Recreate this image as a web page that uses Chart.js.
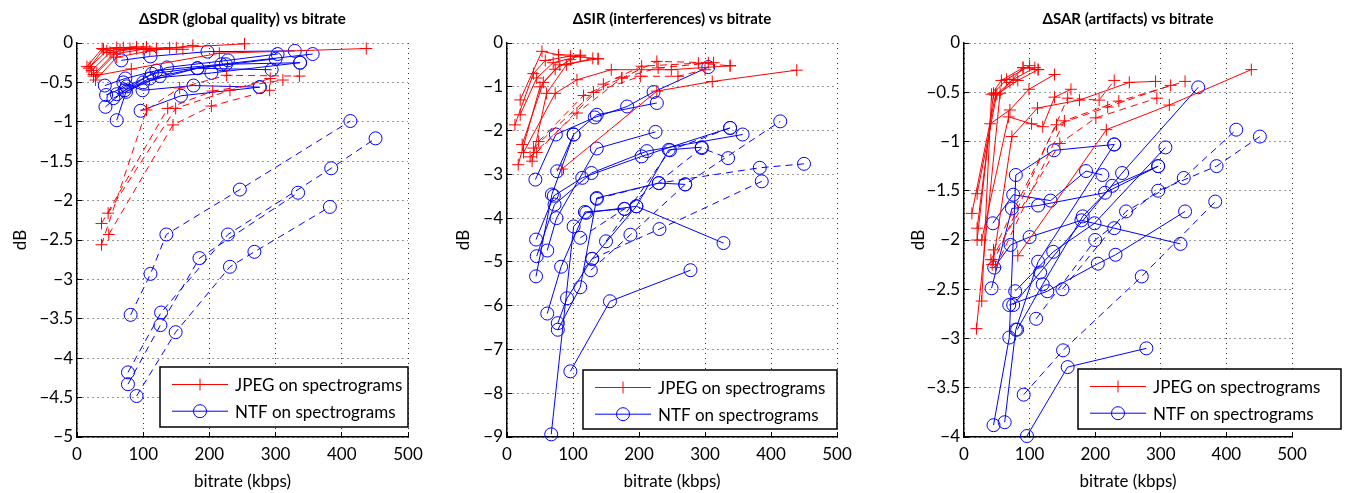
<!DOCTYPE html>
<html><head><meta charset="utf-8">
<script src="https://cdn.jsdelivr.net/npm/chart.js@4.4.0/dist/chart.umd.min.js"></script>
<style>
html,body{margin:0;padding:0;background:#fff;}
body{width:1349px;height:493px;position:relative;overflow:hidden;}
canvas{position:absolute;top:0;}
</style></head><body>
<canvas id="c1" width="440" height="493" style="left:0px"></canvas>
<canvas id="c2" width="430" height="493" style="left:443px"></canvas>
<canvas id="c3" width="451" height="493" style="left:898px"></canvas>
<script>
// ---------- tick labels / text ----------
const X_TICKS = [0, 100, 200, 300, 400, 500];
const SDR_Y_TICKS = [0, -0.5, -1, -1.5, -2, -2.5, -3, -3.5, -4, -4.5, -5];
const SIR_Y_TICKS = [0, -1, -2, -3, -4, -5, -6, -7, -8, -9];
const SAR_Y_TICKS = [0, -0.5, -1, -1.5, -2, -2.5, -3, -3.5, -4];
const TITLES = ['\u0394SDR (global quality) vs bitrate', '\u0394SIR (interferences) vs bitrate', '\u0394SAR (artifacts) vs bitrate'];
const X_LABEL = 'bitrate (kbps)';
const Y_LABEL = 'dB';
const LEGEND_LABELS = ['JPEG on spectrograms', 'NTF on spectrograms'];

// ---------- data: each series = list of [bitrate kbps, dB] ----------
// SDR panel
const sdrJpegSolid = [
  [[20,-0.3],[45,-0.1],[80,-0.07],[120,-0.07]],
  [[22,-0.35],[50,-0.12],[90,-0.07],[140,-0.06]],
  [[25,-0.4],[55,-0.14],[100,-0.08],[160,-0.08]],
  [[28,-0.47],[60,-0.18],[110,-0.1],[175,-0.03]],
  [[18,-0.32],[40,-0.08],[70,-0.06],[105,-0.05]],
  [[25,-0.42],[82,-0.33],[215,-0.13],[437,-0.07]],
  [[30,-0.38],[65,-0.08],[150,-0.06],[253,-0.01]],
  [[15,-0.3],[38,-0.07],[60,-0.06],[90,-0.05]]
];
const sdrJpegDashed = [
  [[37,-2.56],[105,-0.85],[155,-0.57],[226,-0.41],[336,-0.42]],
  [[37,-2.29],[137,-0.83],[205,-0.61],[311,-0.47]],
  [[47,-2.16],[149,-0.83],[231,-0.6],[292,-0.45]],
  [[48,-2.43],[145,-1.04],[203,-0.8],[291,-0.6]]
];
const sdrNtfSolid = [
  [[67,-0.22],[111,-0.17],[197,-0.11],[329,-0.1]],
  [[42,-0.54],[73,-0.45],[120,-0.35],[218,-0.27],[356,-0.14]],
  [[44,-0.66],[75,-0.55],[136,-0.31],[228,-0.22],[303,-0.14]],
  [[43,-0.81],[72,-0.6],[113,-0.39],[225,-0.27],[337,-0.25]],
  [[60,-0.98],[74,-0.62],[125,-0.42],[182,-0.32],[294,-0.34]],
  [[96,-0.86],[157,-0.67],[276,-0.56]],
  [[70,-0.5],[99,-0.6],[176,-0.54],[276,-0.56]],
  [[60,-0.65],[110,-0.45],[203,-0.38],[337,-0.25]],
  [[55,-0.7],[100,-0.5],[182,-0.32],[300,-0.2]]
];
const sdrNtfDashed = [
  [[81,-3.45],[111,-2.93],[135,-2.43],[246,-1.86],[413,-0.99]],
  [[77,-4.18],[127,-3.42],[228,-2.43],[384,-1.59],[451,-1.21]],
  [[77,-4.33],[126,-3.58],[185,-2.73],[334,-1.9]],
  [[90,-4.48],[149,-3.67],[231,-2.84],[268,-2.65],[382,-2.08]]
];
// SIR panel
const sirJpegSolid = [
  [[20,-1.3],[53,-0.19],[78,-0.27],[111,-0.28]],
  [[12,-1.87],[40,-0.7],[58,-0.4],[96,-0.3],[138,-0.36]],
  [[20,-1.64],[45,-0.8],[70,-0.45],[111,-0.3]],
  [[23,-2.32],[55,-0.9],[80,-0.5],[138,-0.36]],
  [[17,-2.78],[50,-1.0],[73,-0.6],[96,-0.38]],
  [[38,-2.7],[60,-1.15],[90,-0.5],[130,-0.35]],
  [[83,-2.88],[227,-1.1],[311,-0.88],[439,-0.62]],
  [[25,-2.5],[73,-1.15],[106,-0.84],[158,-0.61],[249,-0.61],[338,-0.52]]
];
const sirJpegDashed = [
  [[48,-2.25],[116,-1.2],[174,-0.8],[229,-0.57],[313,-0.45]],
  [[40,-2.4],[131,-1.13],[202,-0.76],[259,-0.76],[300,-0.61]],
  [[45,-2.5],[146,-0.94],[204,-0.53],[290,-0.46],[338,-0.52]],
  [[35,-2.6],[106,-1.6],[174,-0.8],[227,-0.42],[305,-0.45]]
];
const sirNtfSolid = [
  [[43,-3.12],[74,-2.09],[133,-1.7],[182,-1.45],[222,-1.12],[305,-0.55]],
  [[76,-2.93],[101,-2.09],[136,-1.64],[227,-1.37]],
  [[44,-4.49],[71,-3.49],[114,-3.08],[204,-2.59],[338,-1.94]],
  [[45,-4.87],[72,-3.69],[128,-2.97],[212,-2.47],[357,-2.09]],
  [[61,-4.74],[75,-4.0],[136,-2.41],[225,-2.03]],
  [[44,-5.33],[68,-3.46],[101,-2.09]],
  [[61,-6.18],[82,-5.11],[118,-3.86],[178,-3.79]],
  [[77,-6.4],[91,-5.83],[129,-4.93],[196,-3.73],[245,-2.44],[295,-2.38]],
  [[77,-6.55],[111,-5.58],[136,-3.54],[230,-3.2],[270,-3.23]],
  [[67,-8.94],[101,-4.19],[120,-3.88],[196,-3.73],[328,-4.57]],
  [[96,-7.5],[156,-5.9],[278,-5.19]]
];
const sirNtfDashed = [
  [[127,-5.19],[187,-4.38],[270,-3.23],[414,-1.79]],
  [[129,-4.93],[231,-4.25],[386,-3.16]],
  [[136,-3.56],[230,-3.2],[383,-2.85],[450,-2.76]],
  [[111,-4.45],[178,-3.79],[295,-2.4],[335,-2.63]],
  [[150,-4.53],[247,-2.45],[338,-1.94]]
];
// SAR panel
const sarJpegSolid = [
  [[27,-2.62],[42,-0.52],[57,-0.38],[90,-0.25],[113,-0.27]],
  [[20,-2.0],[45,-0.51],[65,-0.37],[100,-0.23]],
  [[12,-1.73],[48,-0.53],[75,-0.37],[108,-0.25]],
  [[20,-1.53],[50,-0.52],[82,-0.38],[113,-0.27]],
  [[19,-2.9],[55,-0.51],[70,-0.4],[90,-0.25]],
  [[20,-1.88],[40,-0.82],[70,-0.68],[99,-0.47],[138,-0.32]],
  [[27,-2.0],[68,-0.75],[103,-0.82],[120,-0.85],[138,-0.55],[163,-0.47]],
  [[82,-2.16],[217,-0.88],[313,-0.63],[438,-0.27]],
  [[45,-2.2],[73,-0.95],[112,-0.66],[176,-0.58],[252,-0.4],[292,-0.39]]
];
const sarJpegDashed = [
  [[41,-2.2],[146,-1.02],[201,-0.76],[294,-0.56]],
  [[45,-2.1],[141,-0.83],[219,-0.65],[315,-0.43]],
  [[48,-2.28],[153,-0.79],[236,-0.59],[337,-0.39]],
  [[43,-2.25],[158,-0.56],[206,-0.58],[229,-0.38]]
];
const sarNtfSolid = [
  [[45,-3.88],[69,-2.99],[79,-1.34],[137,-1.09],[229,-1.03]],
  [[62,-3.85],[79,-2.91],[113,-2.22],[229,-1.03]],
  [[96,-3.99],[158,-3.29],[278,-3.1]],
  [[44,-1.83],[75,-1.54],[132,-1.6],[186,-1.3],[211,-1.34]],
  [[46,-2.28],[71,-2.05],[100,-1.97],[179,-1.8],[229,-1.88],[330,-2.04]],
  [[42,-2.49],[73,-1.68],[113,-1.65],[215,-1.52],[296,-1.25]],
  [[75,-2.66],[116,-2.33],[241,-1.32],[357,-0.45]],
  [[69,-2.66],[127,-2.52],[204,-2.24],[231,-2.15],[337,-1.71]],
  [[78,-2.52],[136,-2.12],[199,-1.83],[307,-1.06]],
  [[81,-2.91],[120,-2.45],[181,-1.76],[226,-1.45],[296,-1.25]]
];
const sarNtfDashed = [
  [[91,-3.57],[151,-3.12],[271,-2.37],[383,-1.61]],
  [[150,-2.5],[247,-1.71],[335,-1.37],[415,-0.88]],
  [[110,-2.8],[200,-2.0],[296,-1.5],[385,-1.25],[451,-0.95]]
];

// ---------- rendering ----------
const FONT = 'Lato, "Open Sans", "Liberation Sans", sans-serif';
Chart.defaults.font.family = FONT;
Chart.defaults.color = '#000';
const RED = '#ff0000', BLUE = '#0000ff';

function fmt(v) { return (v < 0 ? '\u2212' : '') + Math.abs(v); }

function toDatasets(lines, color, style, dashed) {
  return lines.map(l => ({
    data: l.map(([x, y]) => ({x, y})),
    showLine: true, borderColor: color, borderWidth: 1,
    borderDash: dashed ? [7, 5] : [],
    pointStyle: style, pointRadius: style === 'cross' ? 6 : 6.5, pointHoverRadius: 6.5,
    pointBorderColor: color, pointBackgroundColor: 'rgba(0,0,0,0)', pointBorderWidth: 1,
    fill: false, tension: 0, clip: false
  }));
}

const boxLegend = {
  id: 'boxLegend',
  afterDatasetsDraw(chart, args, opts) {
    const ctx = chart.ctx, b = opts.box;
    ctx.save();
    ctx.setLineDash([]);
    ctx.fillStyle = '#fff';
    ctx.fillRect(b.x, b.y, b.w, b.h);
    ctx.lineWidth = 1.5; ctx.strokeStyle = '#000';
    ctx.strokeRect(b.x, b.y, b.w, b.h);
    const items = [{c: RED, s: 'cross'}, {c: BLUE, s: 'circle'}];
    items.forEach((it, i) => {
      const y = b.y + 17.5 + i * 26.7;
      ctx.strokeStyle = it.c; ctx.lineWidth = 1;
      ctx.beginPath(); ctx.moveTo(b.x + 12, y); ctx.lineTo(b.x + 68, y); ctx.stroke();
      ctx.beginPath();
      if (it.s === 'cross') {
        ctx.moveTo(b.x + 40 - 6, y); ctx.lineTo(b.x + 40 + 6, y);
        ctx.moveTo(b.x + 40, y - 6); ctx.lineTo(b.x + 40, y + 6);
      } else {
        ctx.arc(b.x + 40, y, 6.5, 0, Math.PI * 2);
      }
      ctx.stroke();
      ctx.fillStyle = '#000';
      ctx.font = '17px ' + FONT;
      ctx.textBaseline = 'middle'; ctx.textAlign = 'left';
      ctx.fillText(LEGEND_LABELS[i], b.x + 75, y + 1);
    });
    ctx.restore();
  }
};

function makePanel(id, cfg) {
  const datasets = [].concat(
    toDatasets(cfg.jpegDashed, RED, 'cross', true),
    toDatasets(cfg.jpegSolid, RED, 'cross', false),
    toDatasets(cfg.ntfDashed, BLUE, 'circle', true),
    toDatasets(cfg.ntfSolid, BLUE, 'circle', false)
  );
  const gridOpts = {color: 'rgba(0,0,0,0.8)', lineWidth: 1, drawTicks: true, tickLength: -5, tickColor: '#000', tickWidth: 1};
  const borderOpts = {display: true, color: '#000', width: 1.5, dash: [1, 4]};
  new Chart(document.getElementById(id), {
    type: 'scatter',
    data: {datasets},
    plugins: [boxLegend],
    options: {
      responsive: false, animation: false, events: [],
      layout: {padding: {left: 0, right: cfg.padRight, top: 0, bottom: 0}},
      plugins: {
        legend: {display: false}, tooltip: {enabled: false},
        title: {display: true, fullSize: false, text: cfg.title, color: '#000', font: {size: 15, weight: 'bold', lineHeight: 1.2}, padding: {top: 10, bottom: 15}},
        boxLegend: {box: cfg.legendBox}
      },
      scales: {
        x: {
          type: 'linear', min: 0, max: 500,
          afterBuildTicks: s => { s.ticks = X_TICKS.map(v => ({value: v})); },
          ticks: {font: {size: 17}, color: '#000', padding: 12, maxRotation: 0, autoSkip: false, callback: fmt},
          grid: gridOpts, border: borderOpts,
          title: {display: true, text: X_LABEL, font: {size: 17}, color: '#000', padding: {top: 0, bottom: 1}},
          afterFit: s => { s.height = 56; }
        },
        y: {
          type: 'linear', min: cfg.yTicks[cfg.yTicks.length - 1], max: 0,
          afterBuildTicks: s => { s.ticks = cfg.yTicks.map(v => ({value: v})); },
          ticks: {font: {size: 17}, color: '#000', padding: 9, autoSkip: false, callback: fmt},
          grid: gridOpts, border: borderOpts,
          title: {display: true, text: Y_LABEL, font: {size: 17}, color: '#000', padding: {top: 10, bottom: 0}},
          afterFit: s => { s.width = cfg.yWidth; }
        }
      }
    }
  });
}

makePanel('c1', {title: TITLES[0], jpegSolid: sdrJpegSolid, jpegDashed: sdrJpegDashed, ntfSolid: sdrNtfSolid, ntfDashed: sdrNtfDashed,
  yTicks: SDR_Y_TICKS, yWidth: 77, padRight: 32, legendBox: {x: 160, y: 367, w: 248, h: 60}});
makePanel('c2', {title: TITLES[1], jpegSolid: sirJpegSolid, jpegDashed: sirJpegDashed, ntfSolid: sirNtfSolid, ntfDashed: sirNtfDashed,
  yTicks: SIR_Y_TICKS, yWidth: 64, padRight: 36, legendBox: {x: 140, y: 370, w: 254, h: 59}});
makePanel('c3', {title: TITLES[2], jpegSolid: sarJpegSolid, jpegDashed: sarJpegDashed, ntfSolid: sarNtfSolid, ntfDashed: sarNtfDashed,
  yTicks: SAR_Y_TICKS, yWidth: 66, padRight: 57, legendBox: {x: 180, y: 369, w: 263, h: 60}});
</script>
</body></html>
